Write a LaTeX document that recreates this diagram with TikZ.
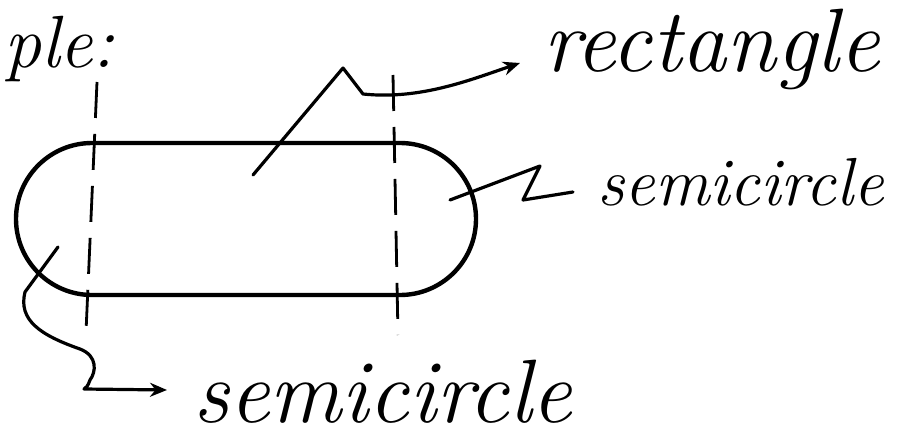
\documentclass[tikz,border=0pt]{standalone}
\usetikzlibrary{arrows.meta}

\begin{document}
\begin{tikzpicture}[
    x=1pt, y=-1pt,
    >={Stealth[length=17pt,width=14pt]},
    every node/.style={inner sep=0pt, anchor=base west},
    outline/.style={line width=4.4pt, line join=round},
    dashline/.style={line width=2.8pt, dash pattern=on 36pt off 16pt},
    pointer/.style={line width=3.2pt, line join=round, line cap=round},
    bigtext/.style={font=\fontsize{90}{90}\selectfont\itshape},
    midtext/.style={font=\fontsize{68}{68}\selectfont\itshape}
]
\useasboundingbox (0,0) rectangle (924,444);
% labels
\node[font=\fontsize{74}{74}\selectfont\itshape] (ple) at (4,68) {ple:};
\node[bigtext] (rectlabel) at (543,72) {rectangle};
\node[midtext] (semiright) at (597,205) {semicircle};
\node[font=\fontsize{90}{90}\selectfont\itshape] (semibottom) at (193,422) {semicircle};
% the shape
\draw[outline] (92,143) -- (400,143) arc(-90:90:76) -- (92,295) arc(90:270:76) -- cycle;
\draw[dashline] (97,82) -- (86,332);
\draw[dashline] (393,75) -- (398,335);
% pointers
\coordinate (rectin) at (253,175);
\coordinate (rightin) at (450,200);
\coordinate (leftin) at (58,247);
\coordinate (recttip) at ([xshift=-23pt,yshift=9pt]rectlabel.base west);
\coordinate (righttip) at ([xshift=-24pt,yshift=13pt]semiright.base west);
\coordinate (bottomtip) at ([xshift=-26pt,yshift=32pt]semibottom.base west);
\draw[pointer, ->] (rectin) -- (343,68) -- (363,94) .. controls (420,100) and (470,80) .. (recttip);
\draw[pointer] (rightin) -- (540,166) -- (523,200) -- (righttip);
\draw[pointer, ->] (leftin) -- (25,292) .. controls (18,320) and (40,335) .. (80,349)
    .. controls (98,356) and (96,372) .. (90,380) .. controls (88,386) and (86,388) .. (84,389) -- (bottomtip);
\end{tikzpicture}
\end{document}
